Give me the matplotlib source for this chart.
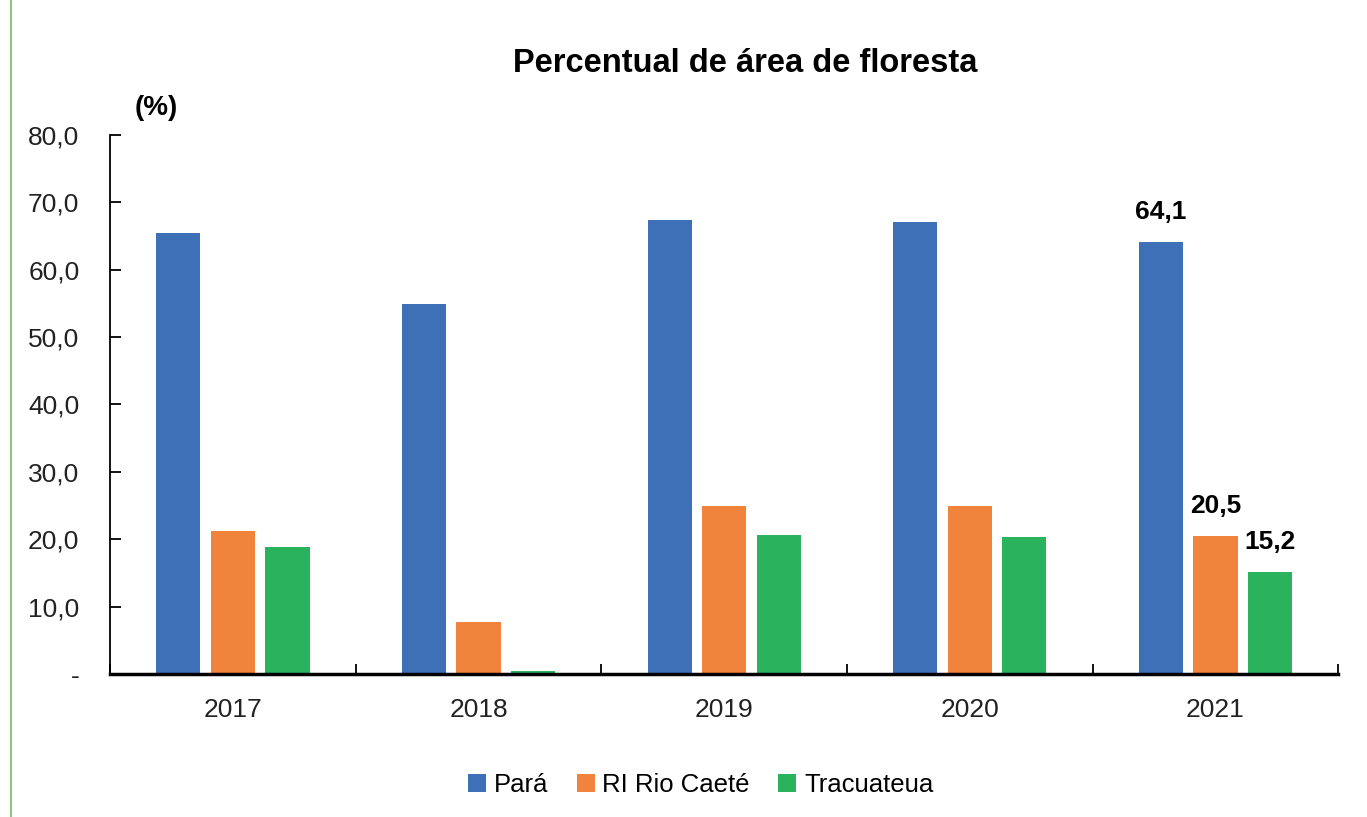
import numpy as np
import matplotlib.pyplot as plt
from matplotlib.lines import Line2D

plt.rcParams['font.family'] = ['Liberation Sans', 'DejaVu Sans']

years = ["2017", "2018", "2019", "2020", "2021"]
para = [65.4, 54.9, 67.4, 67.1, 64.1]
rio_caete = [21.2, 7.7, 24.9, 24.9, 20.5]
tracuateua = [18.8, 0.5, 20.6, 20.3, 15.2]
series_names = ["Pará", "RI Rio Caeté", "Tracuateua"]
colors = ["#3E70B8", "#F0843C", "#2BB25C"]
yticks = [0, 10, 20, 30, 40, 50, 60, 70, 80]
ytick_labels = ["-"] + [f"{v:.1f}".replace(".", ",") for v in yticks[1:]]

fig = plt.figure(figsize=(13.67, 8.17), dpi=100)
ax = fig.add_axes([0.0805, 0.175, 0.8985, 0.66])

x = np.arange(len(years))
width = 0.18
offsets = [-0.222, 0.0, 0.222]
all_series = [para, rio_caete, tracuateua]
for vals, off, col, name in zip(all_series, offsets, colors, series_names):
    ax.bar(x + off, vals, width, color=col, label=name)

# data labels on last year only
last = len(years) - 1
for vals, off in zip(all_series, offsets):
    ax.text(last + off, vals[last] + 2.6, f"{vals[last]:.1f}".replace(".", ","),
            ha="center", va="bottom", fontsize=19, fontweight="bold")

ax.set_xlim(-0.5, len(years) - 0.5)
ax.set_ylim(0, 80)
ax.set_yticks(yticks)
ax.set_yticklabels(ytick_labels, fontsize=19, color="#222222")
ax.set_xticks(x)
ax.set_xticklabels(years, fontsize=19, color="#222222")
ax.set_xticks(np.arange(-0.5, len(years)), minor=True)
ax.tick_params(axis="y", direction="in", length=8, width=1.3, pad=22)
ax.tick_params(axis="x", which="major", length=0, pad=17)
ax.tick_params(axis="x", which="minor", direction="in", length=7, width=1.3)

for s in ["top", "right"]:
    ax.spines[s].set_visible(False)
ax.spines["left"].set_linewidth(1.3)
ax.spines["bottom"].set_linewidth(2.5)

ax.set_title("Percentual de área de floresta", fontsize=23.5, fontweight="bold",
             x=0.517, pad=45)
ax.text(0.02, 1.025, "(%)", transform=ax.transAxes, fontsize=20, fontweight="bold",
        ha="left", va="bottom")

ax.legend(loc="upper center", bbox_to_anchor=(0.481, -0.14), ncol=3, frameon=False,
          fontsize=18.5, handlelength=0.7, handleheight=0.7, handletextpad=0.3,
          columnspacing=1.1)

fig.add_artist(Line2D([0.008, 0.008], [0.0, 1.0], transform=fig.transFigure,
                      color="#7CB860", linewidth=1.2))

fig.savefig("out.png", dpi=100, facecolor="white")
